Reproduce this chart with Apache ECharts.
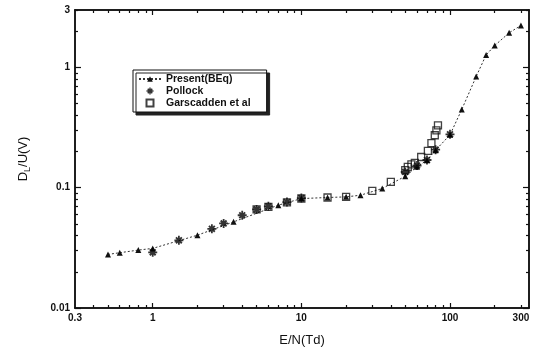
<!DOCTYPE html>
<html>
<head>
<meta charset="utf-8">
<script src="https://cdn.jsdelivr.net/npm/echarts@6/dist/echarts.min.js"></script>
<style>
  html, body { margin: 0; padding: 0; background: #fff; }
  #chart { width: 540px; height: 353px; }
</style>
</head>
<body>
<div id="chart"></div>
<script>
// Present(BEq) curve
var bEqX = [0.5, 0.6, 0.8, 1, 2, 3.5, 7, 10, 15, 20, 25, 35, 50, 60, 70, 80, 100, 120, 150, 175, 200, 250, 300];
var bEqY = [0.0279, 0.0288, 0.0303, 0.0313, 0.0403, 0.052, 0.0716, 0.0812, 0.0829, 0.0839, 0.0866, 0.0985, 0.1245, 0.149, 0.169, 0.205, 0.275, 0.447, 0.84, 1.27, 1.52, 1.94, 2.23];

// Pollock
var pollockX = [1, 1.5, 2.5, 3, 4, 5, 6, 8, 10, 50, 60, 70, 80, 100];
var pollockY = [0.029, 0.0365, 0.0455, 0.0505, 0.059, 0.066, 0.07, 0.076, 0.082, 0.135, 0.153, 0.17, 0.207, 0.278];

// Garscadden et al
var garsX = [5, 6, 8, 10, 15, 20, 30, 40, 50, 52, 55, 58, 64, 71, 75, 79, 81, 83];
var garsY = [0.066, 0.0694, 0.0754, 0.0813, 0.0829, 0.0839, 0.094, 0.112, 0.14, 0.149, 0.156, 0.161, 0.18, 0.202, 0.235, 0.273, 0.30, 0.33];

var xLabels = [0.3, 1, 10, 100, 300];
var xMajor = [1, 10, 100];
var xMinor = [0.4, 0.5, 0.6, 0.7, 0.8, 0.9, 2, 3, 4, 5, 6, 7, 8, 9, 20, 30, 40, 50, 60, 70, 80, 90, 200, 300];
var yLabels = [0.01, 0.1, 1, 3];
var yMajor = [0.01, 0.1, 1];
var yMinor = [0.02, 0.03, 0.04, 0.05, 0.06, 0.07, 0.08, 0.09, 0.2, 0.3, 0.4, 0.5, 0.6, 0.7, 0.8, 0.9, 2, 3];

var ink = '#111';
var font = '"Liberation Sans", Arial, sans-serif';

// asterisk marker for Pollock, open square for Garscadden
var starPath = 'path://M4,0h2v10h-2z M0,4h10v2h-10z M1,2.5L2.5,1L9,7.5L7.5,9z M7.5,1L9,2.5L2.5,9L1,7.5z';
var squarePath = 'path://M0,0h10v10h-10z';

function pairs(xs, ys) {
    return xs.map(function (x, i) { return [x, ys[i]]; });
}

// one log axis layer: only ticks (and optionally labels)
function logAxis(position, min, max, ticks, len, labels) {
    var ax = {
        type: 'log',
        logBase: 10,
        position: position,
        min: min,
        max: max,
        axisLine: { show: true, lineStyle: { color: ink, width: 1.5 } },
        axisTick: { show: true, inside: true, length: len, customValues: ticks, lineStyle: { color: ink, width: 1.2 } },
        axisLabel: { show: false },
        splitLine: { show: false },
        minorTick: { show: false },
        minorSplitLine: { show: false }
    };
    if (labels) {
        ax.axisLabel = {
            show: true,
            customValues: labels,
            color: ink,
            fontFamily: font,
            fontWeight: 'bold',
            fontSize: 10,
            margin: 5,
            formatter: function (v) { return String(+v.toPrecision(3)); }
        };
    }
    return ax;
}

var xMin = 0.3, xMax = 340, yMin = 0.01, yMax = 3;

var xAxes = [
    logAxis('bottom', xMin, xMax, xMajor, 5, xLabels),
    logAxis('bottom', xMin, xMax, xMinor, 3),
    logAxis('top', xMin, xMax, xMajor, 5),
    logAxis('top', xMin, xMax, xMinor, 3)
];
xAxes[0].name = 'E/N(Td)';
xAxes[0].nameLocation = 'middle';
xAxes[0].nameGap = 26;
xAxes[0].nameTextStyle = { color: ink, fontFamily: font, fontSize: 13 };

var yAxes = [
    logAxis('left', yMin, yMax, yMajor, 6, yLabels),
    logAxis('left', yMin, yMax, yMinor, 3),
    logAxis('right', yMin, yMax, yMajor, 6),
    logAxis('right', yMin, yMax, yMinor, 3)
];
yAxes[0].name = 'D{s|L}/U(V)';
yAxes[0].nameLocation = 'middle';
yAxes[0].nameGap = 43;
yAxes[0].nameTextStyle = {
    color: ink, fontFamily: font, fontSize: 13,
    rich: { s: { fontSize: 9, fontFamily: font, color: ink, padding: [8, 0, 0, 0] } }
};

var myChart = echarts.init(document.getElementById('chart'));

var option = {
    backgroundColor: '#fff',
    animation: false,
    grid: { left: 75, right: 11, top: 10, bottom: 45 },
    legend: {
        orient: 'vertical',
        left: 133,
        top: 70,
        itemWidth: 22,
        itemHeight: 7,
        itemGap: 0,
        padding: [3, 16, 3, 5],
        backgroundColor: '#fff',
        borderColor: ink,
        borderWidth: 1,
        borderRadius: 0,
        shadowColor: '#222',
        shadowOffsetX: 3,
        shadowOffsetY: 3,
        shadowBlur: 0,
        textStyle: { color: ink, fontFamily: font, fontWeight: 'bold', fontSize: 10.5, lineHeight: 12 },
        data: [
            { name: 'Present(BEq)' },
            { name: 'Pollock', icon: starPath },
            { name: 'Garscadden et al', icon: squarePath }
        ]
    },
    xAxis: xAxes,
    yAxis: yAxes,
    series: [
        {
            name: 'Present(BEq)',
            type: 'line',
            data: pairs(bEqX, bEqY),
            symbol: 'triangle',
            symbolSize: 6,
            itemStyle: { color: ink },
            lineStyle: { color: '#333', width: 1, type: [2, 2] },
            z: 2
        },
        {
            name: 'Pollock',
            type: 'scatter',
            data: pairs(pollockX, pollockY),
            symbol: starPath,
            symbolSize: 9,
            itemStyle: { color: '#000' },
            z: 3
        },
        {
            name: 'Garscadden et al',
            type: 'scatter',
            data: pairs(garsX, garsY),
            symbol: squarePath,
            symbolSize: 7,
            itemStyle: { color: 'rgba(255,255,255,0)', borderColor: ink, borderWidth: 1.3 },
            z: 4
        }
    ]
};

myChart.setOption(option);
</script>
</body>
</html>
